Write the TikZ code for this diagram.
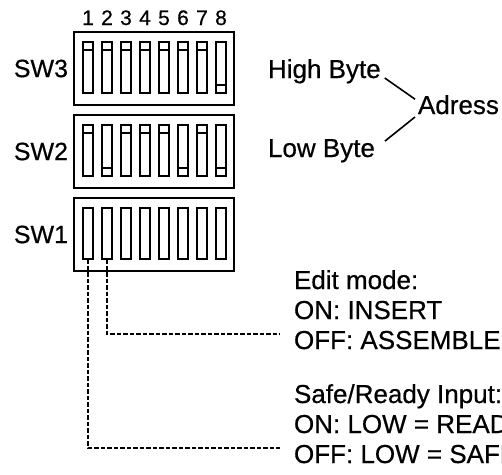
\documentclass[tikz,border=0pt]{standalone}
\usepackage{fontspec}
\setmainfont{Liberation Sans}[FakeBold=0.5]
\begin{document}
\begin{tikzpicture}[x=1pt,y=-1pt,
  lab/.style={font=\fontsize{26}{31}\selectfont, inner sep=0pt, outer sep=0pt},
  swlab/.style={font=\fontsize{25}{30}\selectfont, inner sep=0pt, outer sep=0pt},
  dig/.style={font=\fontsize{21}{25}\selectfont, inner sep=0pt, outer sep=0pt},
  boxs/.style={draw, line width=1.6pt, inner sep=0pt, outer sep=0pt, minimum width=160pt, minimum height=73pt, anchor=north west},
  swr/.style={draw, line width=1.5pt, inner sep=0pt, outer sep=0pt, minimum width=10pt, minimum height=51pt, anchor=north west},
  slider/.style={line width=1.5pt},
  lead/.style={line width=1.4pt, dash pattern=on 4.5pt off 2pt},
  conn/.style={line width=1.6pt}]
\clip (0,0) rectangle (502,474);
% boxes
\node[boxs] (b3) at (74,32) {};
\node[boxs] (b2) at (74,115) {};
\node[boxs] (b1) at (74,198) {};
% labels
\node[swlab, anchor=east] (l3) at (68,68.5) {SW3};
\node[swlab, anchor=east] (l2) at (68,151.5) {SW2};
\node[swlab, anchor=east] (l1) at (68,234.5) {SW1};
% switches and digits
\foreach \i in {1,...,8} {
  \node[dig, anchor=base] (d\i) at ({88+19*(\i-1)},25) {\i};
  \node[swr] (s3-\i) at ({83+19*(\i-1)},42) {};
  \node[swr] (s2-\i) at ({83+19*(\i-1)},125) {};
  \node[swr] (s1-\i) at ({83+19*(\i-1)},208) {};
}
% SW3: 1-7 up, 8 down
\foreach \i in {1,...,7}
  \draw[slider] ([yshift=-8pt]s3-\i.north west) -- ([yshift=-8pt]s3-\i.north east);
\draw[slider] ([yshift=8pt]s3-8.south west) -- ([yshift=8pt]s3-8.south east);
% SW2: up down up up up down up down
\foreach \i in {1,3,4,5,7}
  \draw[slider] ([yshift=-8pt]s2-\i.north west) -- ([yshift=-8pt]s2-\i.north east);
\foreach \i in {2,6,8}
  \draw[slider] ([yshift=8pt]s2-\i.south west) -- ([yshift=8pt]s2-\i.south east);
% address texts
\node[lab, anchor=base west] (hb) at (268,78) {High Byte};
\node[lab, anchor=base west] (ad) at (418,114) {Adress};
\node[lab, anchor=base west] (lb) at (268,157) {Low Byte};
\draw[conn] ([xshift=4pt]hb.base east) -- ([shift={(-3pt,-4pt)}]ad.north west);
\draw[conn] ([shift={(10pt,-2pt)}]lb.north east) -- ([shift={(-3pt,-3pt)}]ad.base west);
% mode texts
\node[lab, anchor=base west] (t1) at (294,289) {Edit mode:};
\node[lab, anchor=base west] (t2) at (294,319) {ON: INSERT};
\node[lab, anchor=base west] (t3) at (294,349) {OFF: ASSEMBLE};
\node[lab, anchor=base west] (t4) at (294,403) {Safe/Ready Input:};
\node[lab, anchor=base west] (t5) at (294,433) {ON: LOW = READY};
\node[lab, anchor=base west] (t6) at (294,463) {OFF: LOW = SAFE};
\coordinate (e2) at (280,334);
\coordinate (e1) at (280,448);
\draw[lead] (s1-2.south) |- (e2);
\draw[lead] (s1-1.south) |- (e1);
\end{tikzpicture}
\end{document}
